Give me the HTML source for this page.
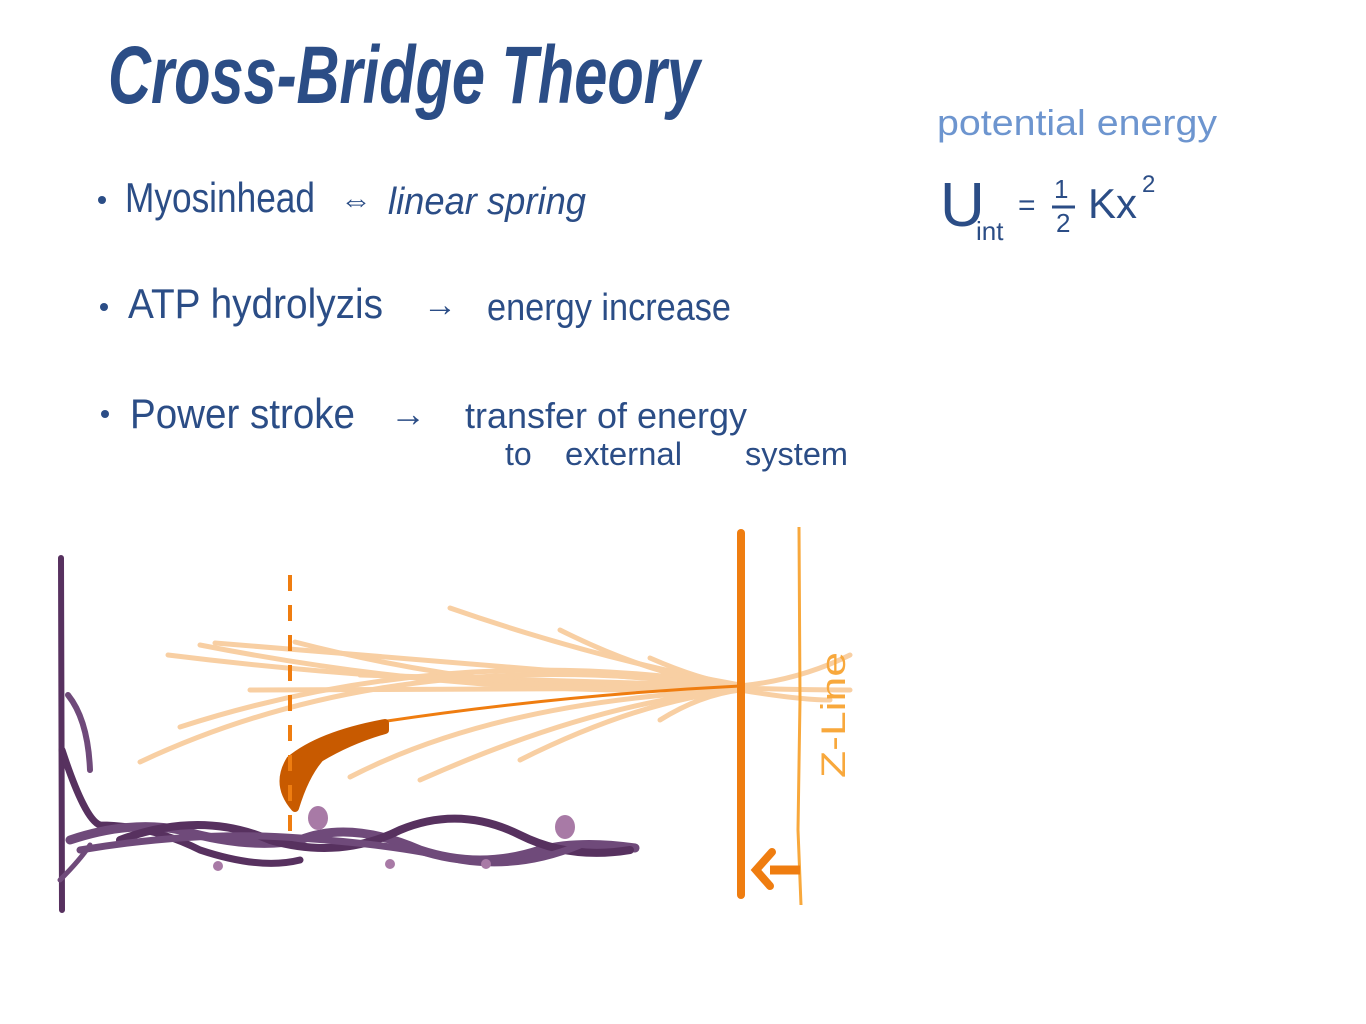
<!DOCTYPE html>
<html><head><meta charset="utf-8"><style>
html,body{margin:0;padding:0;background:#fff;width:1366px;height:1024px;overflow:hidden}
svg{display:block}
.t{font-family:"Liberation Sans",sans-serif;fill:#2b4d86}
</style></head><body>
<svg width="1366" height="1024" viewBox="0 0 1366 1024">
<text class="t" x="108" y="103" font-size="82" font-weight="bold" font-style="italic" textLength="592" lengthAdjust="spacingAndGlyphs">Cross-Bridge Theory</text>

<circle cx="102" cy="200" r="4" fill="#2b4d86"/>
<text class="t" x="125" y="212" font-size="42" textLength="190" lengthAdjust="spacingAndGlyphs">Myosinhead</text>
<text class="t" x="340" y="211" font-size="32">⇔</text>
<text class="t" x="388" y="214" font-size="38" font-style="italic" textLength="198" lengthAdjust="spacingAndGlyphs">linear spring</text>

<circle cx="104" cy="307" r="4" fill="#2b4d86"/>
<text class="t" x="128" y="318" font-size="42" textLength="255" lengthAdjust="spacingAndGlyphs">ATP hydrolyzis</text>
<text class="t" x="423" y="316" font-size="34">→</text>
<text class="t" x="487" y="320" font-size="38" textLength="244" lengthAdjust="spacingAndGlyphs">energy  increase</text>

<circle cx="105" cy="414" r="4" fill="#2b4d86"/>
<text class="t" x="130" y="428" font-size="42" textLength="225" lengthAdjust="spacingAndGlyphs">Power stroke</text>
<text class="t" x="390" y="426" font-size="36">→</text>
<text class="t" x="465" y="428" font-size="36" textLength="282" lengthAdjust="spacingAndGlyphs">transfer of energy</text>
<text class="t" x="505" y="465" font-size="32">to</text>
<text class="t" x="565" y="465" font-size="32" textLength="117" lengthAdjust="spacingAndGlyphs">external</text>
<text class="t" x="745" y="465" font-size="32" textLength="103" lengthAdjust="spacingAndGlyphs">system</text>

<text x="937" y="135" font-family="Liberation Sans,sans-serif" font-size="36" fill="#6d95cf" textLength="280" lengthAdjust="spacingAndGlyphs">potential  energy</text>
<text class="t" x="940" y="226" font-size="62">U</text>
<text class="t" x="976" y="240" font-size="26">int</text>
<text class="t" x="1018" y="215" font-size="30">=</text>
<text class="t" x="1054" y="198" font-size="26">1</text>
<line x1="1052" y1="207" x2="1075" y2="207" stroke="#2b4d86" stroke-width="3"/>
<text class="t" x="1056" y="232" font-size="26">2</text>
<text class="t" x="1088" y="218" font-size="42">Kx</text>
<text class="t" x="1142" y="192" font-size="24">2</text>

<g stroke="#f8cfa3" stroke-width="5" fill="none" stroke-linecap="round">
<path d="M168 655 Q450 690 740 685"/>
<path d="M200 645 Q480 700 740 688"/>
<path d="M140 762 Q400 640 740 688"/>
<path d="M180 727 Q450 640 740 686"/>
<path d="M250 690 Q500 690 740 688"/>
<path d="M215 643 Q480 665 740 686"/>
<path d="M450 608 Q600 660 740 685"/>
<path d="M360 675 Q560 680 740 686"/>
<path d="M295 642 Q520 700 740 688"/>
<path d="M350 777 Q500 700 740 690"/>
<path d="M420 780 Q600 700 740 690"/>
<path d="M560 630 Q660 680 740 686"/>
<path d="M650 658 Q700 680 740 686"/>
<path d="M660 720 Q700 695 740 690"/>
<path d="M520 760 Q640 700 740 690"/>
<path d="M740 686 Q800 680 850 655"/>
<path d="M740 688 Q800 690 850 690"/>
<path d="M740 690 Q800 700 830 700"/>
</g>
<path d="M380 722 Q560 695 740 686" stroke="#ef7d10" stroke-width="3" fill="none"/>
<path d="M385 723 Q320 735 290 760 Q275 785 295 808 Q305 775 320 758 Q350 740 385 730 Z" fill="#c85a00" stroke="#c85a00" stroke-width="8" stroke-linejoin="round"/>
<line x1="290" y1="575" x2="290" y2="845" stroke="#ef7d10" stroke-width="4" stroke-dasharray="16,14"/>

<g fill="none" stroke-linecap="round">
<path d="M61 558 L62 910" stroke="#57315f" stroke-width="6"/>
<path d="M68 695 Q88 720 90 770" stroke="#6f4a7a" stroke-width="6"/>
<path d="M62 750 Q85 820 100 825 Q150 825 200 850 Q260 870 300 860" stroke="#57315f" stroke-width="7"/>
<path d="M70 840 Q130 820 180 830 Q250 850 300 840 Q350 820 420 850 Q480 870 540 850 Q580 840 635 848" stroke="#6f4a7a" stroke-width="9"/>
<path d="M120 840 Q200 810 270 840 Q340 860 400 830 Q460 805 520 835 Q570 860 630 850" stroke="#57315f" stroke-width="8"/>
<path d="M80 850 Q200 830 300 838 Q400 845 460 860 Q520 870 580 845" stroke="#6f4a7a" stroke-width="7"/>
<path d="M60 880 Q80 860 90 845" stroke="#6f4a7a" stroke-width="5"/>
</g>
<g fill="#a87aa6">
<ellipse cx="318" cy="818" rx="10" ry="12"/>
<ellipse cx="565" cy="827" rx="10" ry="12"/>
<circle cx="218" cy="866" r="5"/><circle cx="390" cy="864" r="5"/><circle cx="486" cy="864" r="5"/>
</g>

<line x1="741" y1="533" x2="741" y2="895" stroke="#ef7d10" stroke-width="8" stroke-linecap="round"/>
<path d="M799 527 L800 700 L798 830 L801 905" stroke="#f8a83c" stroke-width="3" fill="none"/>
<path d="M800 870 L770 870" stroke="#ef7d10" stroke-width="9"/>
<path d="M772 852 L756 870 L770 886" stroke="#ef7d10" stroke-width="8" fill="none" stroke-linecap="round"/>
<text x="0" y="0" transform="translate(845,778) rotate(-90)" font-family="Liberation Sans,sans-serif" font-size="34" fill="#f8a83c" textLength="126" lengthAdjust="spacingAndGlyphs">Z-Line</text>
</svg>
</body></html>
